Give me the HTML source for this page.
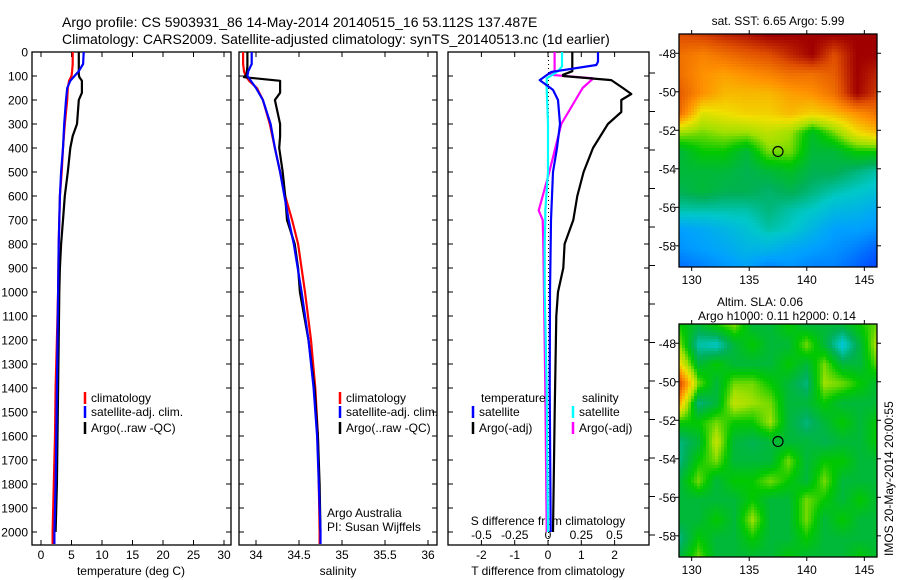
<!DOCTYPE html>
<html><head><meta charset="utf-8">
<style>
html,body{margin:0;padding:0;background:#fff;}
svg{display:block;font-family:"Liberation Sans",sans-serif;}
</style></head>
<body>
<svg id="fig" width="900" height="580" viewBox="0 0 900 580" xmlns="http://www.w3.org/2000/svg">
<rect x="0" y="0" width="900" height="580" fill="#fff"/>
<text x="62" y="27" font-size="14">Argo profile: CS 5903931_86 14-May-2014 20140515_16 53.112S 137.487E</text>
<text x="62" y="44" font-size="14">Climatology: CARS2009. Satellite-adjusted climatology: synTS_20140513.nc (1d earlier)</text>
<g id="g1"></g>
<g id="g2"></g>
<g id="g3"></g>
<g id="m1"></g>
<g id="m2"></g>
<text x="778" y="25" font-size="12" text-anchor="middle">sat. SST: 6.65 Argo: 5.99</text>
<text x="760" y="306" font-size="12" text-anchor="middle">Altim. SLA: 0.06</text>
<text x="777" y="320" font-size="12" text-anchor="middle">Argo h1000: 0.11 h2000: 0.14</text>
<text transform="translate(893,556) rotate(-90)" font-size="12">IMOS 20-May-2014 20:00:55</text>
</svg>
<script>
// ---- data ----
const tDepth   = [0,50,80,100,120,150,200,300,400,500,600,700,800,1000,1200,1400,1600,1800,2000,2050];
const tClim    = [5.2,5.2,5.1,5.0,4.6,4.4,4.3,3.9,3.6,3.4,3.1,3.0,2.9,2.8,2.6,2.4,2.3,2.1,1.9,1.9];
const tSat     = [7.0,6.9,6.2,5.5,4.8,4.3,4.1,3.8,3.6,3.3,3.1,3.0,2.9,2.8,2.7,2.6,2.5,2.4,2.2,2.2];
const aDepth   = [0,60,95,105,120,170,200,300,350,400,500,600,700,800,900,1000,1200,1400,1600,1800,2000];
const tArgo    = [6.2,6.2,6.2,6.3,6.7,6.7,6.2,5.9,5.2,4.8,4.4,3.9,3.6,3.3,3.1,3.0,2.9,2.8,2.7,2.6,2.4];
const sClim    = [33.85,33.85,33.86,33.88,33.92,34.01,34.08,34.16,34.22,34.28,34.34,34.42,34.49,34.57,34.64,34.69,34.72,34.73,34.74,34.74];
const sSat     = [33.95,33.95,33.91,33.90,33.94,34.00,34.08,34.17,34.22,34.28,34.33,34.38,34.44,34.53,34.61,34.67,34.71,34.73,34.75,34.75];
const sArgo    = [33.90,33.90,33.89,33.86,34.28,34.28,34.22,34.28,34.28,34.27,34.31,34.34,34.36,34.45,34.49,34.51,34.61,34.68,34.72,34.74,34.75];
const dDepth   = [0,40,54,83,117,158,200,300,400,500,600,700,1000,1400,2000];
const dTSat    = [1.5,1.5,1.45,0.1,-0.25,0.15,0.3,0.36,0.27,0.15,0.12,0.09,0.06,0.05,0.08];
const dDepth2  = [0,80,95,100,117,150,175,200,250,300,400,500,600,700,800,900,1000,1100,1500,2000];
const dTArgo   = [0.73,0.73,0.45,0.45,1.9,2.25,2.5,2.2,2.2,1.8,1.35,1.07,0.88,0.76,0.5,0.46,0.3,0.25,0.2,0.15];
const dSDepth  = [0,60,80,110,150,300,500,660,700,800,1000,1400,2000];
const dSSat    = [0.105,0.105,0.075,-0.01,-0.01,0.0,0.0,-0.02,-0.02,-0.025,-0.025,-0.01,0.0];
const dSArgo   = [0.05,0.05,0.02,0.34,0.26,0.1,0.01,-0.07,-0.04,-0.035,-0.03,-0.02,-0.01];
const dSArgoD  = [0,80,95,110,150,300,500,660,700,800,1000,1400,2000];
const depthTicks = [0,100,200,300,400,500,600,700,800,900,1000,1100,1200,1300,1400,1500,1600,1700,1800,1900,2000];
const tTicks = [0,5,10,15,20,25,30];
const sTicks = [34,34.5,35,35.5,36];
const dTTicks = [-2,-1,0,1,2];
const dSTicks = [-0.5,-0.25,0,0.25,0.5];
const dSTickLabels = ['-0.5','-0.25','0','0.25','0.5'];
const lonTicks = [130,135,140,145];
const latTicks = [-48,-50,-52,-54,-56,-58];
// SST map grid (colour scale 0..1), rows lat -47..-59, cols lon 129..146
const sstGrid = [
[0.9,0.92,0.95,0.97,1,1,1,1,1,1],
[0.85,0.82,0.85,0.88,0.9,0.95,1,0.9,1,1],
[0.85,0.8,0.78,0.8,0.82,0.85,0.85,0.88,1,0.95],
[0.88,0.8,0.75,0.75,0.75,0.78,0.8,0.85,1,0.92],
[0.85,0.68,0.7,0.72,0.72,0.75,0.72,0.75,0.8,0.85],
[0.62,0.6,0.62,0.62,0.65,0.62,0.52,0.6,0.7,0.75],
[0.5,0.55,0.55,0.5,0.6,0.6,0.5,0.5,0.55,0.55],
[0.5,0.5,0.5,0.48,0.5,0.52,0.48,0.48,0.45,0.42],
[0.48,0.5,0.48,0.48,0.46,0.48,0.45,0.42,0.4,0.38],
[0.42,0.42,0.42,0.42,0.45,0.42,0.4,0.36,0.35,0.32],
[0.3,0.32,0.35,0.38,0.42,0.4,0.35,0.3,0.3,0.28],
[0.28,0.3,0.32,0.35,0.35,0.32,0.3,0.28,0.25,0.2],
[0.22,0.25,0.28,0.3,0.25,0.28,0.25,0.25,0.2,0.15]];
const slaGrid = [
[0.55,0.5,0.55,0.6,0.5,0.5,0.55,0.5,0.5,0.5,0.55,0.6],
[0.6,0.42,0.4,0.5,0.55,0.5,0.5,0.6,0.5,0.38,0.5,0.65],
[0.7,0.5,0.55,0.5,0.5,0.5,0.55,0.5,0.6,0.5,0.5,0.6],
[0.9,0.6,0.5,0.6,0.6,0.55,0.5,0.45,0.62,0.6,0.55,0.5],
[0.75,0.45,0.5,0.65,0.62,0.6,0.5,0.5,0.55,0.5,0.5,0.5],
[0.55,0.55,0.6,0.55,0.55,0.62,0.5,0.45,0.5,0.55,0.5,0.55],
[0.45,0.5,0.65,0.5,0.48,0.5,0.5,0.5,0.48,0.5,0.5,0.55],
[0.45,0.55,0.6,0.5,0.5,0.5,0.6,0.5,0.55,0.55,0.5,0.5],
[0.5,0.6,0.5,0.55,0.55,0.6,0.55,0.5,0.6,0.5,0.5,0.5],
[0.5,0.5,0.5,0.5,0.55,0.5,0.5,0.6,0.55,0.5,0.55,0.5],
[0.5,0.5,0.55,0.5,0.62,0.5,0.5,0.6,0.5,0.55,0.5,0.5],
[0.45,0.55,0.5,0.5,0.55,0.5,0.5,0.55,0.5,0.5,0.5,0.5],
[0.5,0.6,0.5,0.5,0.5,0.5,0.55,0.5,0.5,0.5,0.55,0.5]];
const argoPos = [137.5,-53.1];

// ---- helpers ----
const NS='http://www.w3.org/2000/svg';
function mk(parent,tag,attrs,txt){const e=document.createElementNS(NS,tag);for(const k in attrs)e.setAttribute(k,attrs[k]);if(txt!==undefined)e.textContent=txt;parent.appendChild(e);return e;}
const top0=52, bot=545;
const yD = d => top0 + d*0.24;

function panel(g,x0,x1,xs,ticks,labels,name,ylabels){
  const r=mk(g,'rect',{x:x0,y:top0,width:x1-x0,height:bot-top0,fill:'none',stroke:'#000','stroke-width':1.3});
  
  
  depthTicks.forEach(d=>{
    const y=yD(d);
    mk(g,'line',{x1:x0,x2:x0+5,y1:y,y2:y,stroke:'#000'});
    mk(g,'line',{x1:x1-5,x2:x1,y1:y,y2:y,stroke:'#000'});
    if(ylabels){const t=mk(g,'text',{x:28,y:y+4.5,'font-size':12,'text-anchor':'end'},String(d));
      
      }
  });
  ticks.forEach((v,i)=>{
    const x=xs(v);
    mk(g,'line',{x1:x,x2:x,y1:top0,y2:top0+5,stroke:'#000'});
    mk(g,'line',{x1:x,x2:x,y1:bot-5,y2:bot,stroke:'#000'});
    const t=mk(g,'text',{x:x,y:559,'font-size':12,'text-anchor':'middle'},labels?labels[i]:String(v));
    
    
  });
}
function line(g,xs,vals,depths,color,name){
  const pts=vals.map((v,i)=>xs(v).toFixed(1)+','+yD(depths[i]).toFixed(1)).join(' ');
  const p=mk(g,'polyline',{points:pts,fill:'none',stroke:color,'stroke-width':2.2,'stroke-linejoin':'round'});
  
  
}
function legend(g,x,y,color,label){
  mk(g,'line',{x1:x,x2:x,y1:y-10,y2:y+2,stroke:color,'stroke-width':2.5});
  const t=mk(g,'text',{x:x+6,y:y,'font-size':12},label);
  
  
}

// panel 1 temperature
const g1=document.getElementById('g1');
const xT = v => 41 + v*6.1;
panel(g1,32,231,xT,tTicks,null,'temperature',true);
line(g1,xT,tClim,tDepth,'#f00','temperature-climatology-line');
line(g1,xT,tArgo,aDepth,'#000','temperature-argo-line');
line(g1,xT,tSat,tDepth,'#00f','temperature-satellite-line');
legend(g1,85,402,'#f00','climatology');
legend(g1,85,416,'#00f','satellite-adj. clim.');
legend(g1,85,432,'#000','Argo(..raw -QC)');
mk(g1,'text',{x:131,y:575,'font-size':12,'text-anchor':'middle'},'temperature (deg C)');

// panel 2 salinity
const g2=document.getElementById('g2');
const xS = v => 256 + (v-34)*86;
panel(g2,239,437,xS,sTicks,null,'salinity',false);
line(g2,xS,sClim,tDepth,'#f00','salinity-climatology-line');
line(g2,xS,sArgo,aDepth,'#000','salinity-argo-line');
line(g2,xS,sSat,tDepth,'#00f','salinity-satellite-line');
legend(g2,340,402,'#f00','climatology');
legend(g2,340,416,'#00f','satellite-adj. clim.');
legend(g2,340,432,'#000','Argo(..raw -QC)');
mk(g2,'text',{x:327,y:517,'font-size':12},'Argo Australia');
mk(g2,'text',{x:327,y:531,'font-size':12},'PI: Susan Wijffels');
mk(g2,'text',{x:338,y:575,'font-size':12,'text-anchor':'middle'},'salinity');

// panel 3 differences
const g3=document.getElementById('g3');
const xDT = v => 548 + v*33.3;
const xDS = v => 548 + v*133;
panel(g3,448,649,xDT,dTTicks,null,'difference',false);
for(let k=0;k<13;k++){const y=535-38.5*k; if(y>top0) mk(g3,'line',{x1:649,x2:655,y1:y,y2:y,stroke:'#000'});}
mk(g3,'line',{x1:548.5,x2:548.5,y1:top0,y2:bot,stroke:'#000','stroke-dasharray':'1,3'});
dSTicks.forEach((v,i)=>{const t=mk(g3,'text',{x:xDS(v),y:539,'font-size':12,'text-anchor':'middle'},dSTickLabels[i]);
  
  });
mk(g3,'text',{x:548,y:525,'font-size':12,'text-anchor':'middle'},'S difference from climatology');
line(g3,xDS,dSArgo,dSArgoD,'#f0f','s-diff-argo-line');
line(g3,xDS,dSSat,dSDepth,'#0ff','s-diff-satellite-line');
line(g3,xDT,dTArgo,dDepth2,'#000','t-diff-argo-line');
line(g3,xDT,dTSat,dDepth,'#00f','t-diff-satellite-line');
mk(g3,'text',{x:481,y:402,'font-size':12},'temperature');
mk(g3,'text',{x:582,y:402,'font-size':12},'salinity');
legend(g3,473,416,'#00f','satellite');
legend(g3,473,432,'#000','Argo(-adj)');
legend(g3,573,416,'#0ff','satellite');
legend(g3,573,432,'#f0f','Argo(-adj)');
mk(g3,'text',{x:548,y:575,'font-size':12,'text-anchor':'middle'},'T difference from climatology');

// maps
const cStops=[[0,[0,0,160]],[0.15,[0,64,255]],[0.3,[0,160,255]],[0.4,[0,200,200]],[0.47,[0,176,90]],[0.55,[0,200,0]],[0.62,[160,224,0]],[0.7,[240,224,0]],[0.8,[255,144,0]],[0.9,[224,80,0]],[1,[160,0,0]]];
function cmap(v){v=Math.max(0,Math.min(1,v));
  for(let i=1;i<cStops.length;i++){if(v<=cStops[i][0]){const a=cStops[i-1],b=cStops[i],t=(v-a[0])/(b[0]-a[0]);
    return 'rgb('+a[1].map((c,k)=>Math.round(c+(b[1][k]-c)*t)).join(',')+')';}}
  return 'rgb(160,0,0)';}
function map(id,grid,mx0,my0,mx1,my1){
  const g=document.getElementById(id);
  const lon0=128.9,lon1=146.1,lat0=-47.0,lat1=-59.1;
  const px=lon=>mx0+(lon-lon0)/(lon1-lon0)*(mx1-mx0);
  const py=lat=>my0+(lat-lat0)/(lat1-lat0)*(my1-my0);
  const R=grid.length,C=grid[0].length,cs=3;
  const grp=mk(g,'g',{});
  for(let y=my0;y<my1;y+=cs){for(let x=mx0;x<mx1;x+=cs){
    const fx=(x-mx0)/(mx1-mx0)*(C-1),fy=(y-my0)/(my1-my0)*(R-1);
    const i=Math.min(R-2,Math.floor(fy)),j=Math.min(C-2,Math.floor(fx)),a=fy-i,b=fx-j;
    const v=grid[i][j]*(1-a)*(1-b)+grid[i][j+1]*(1-a)*b+grid[i+1][j]*a*(1-b)+grid[i+1][j+1]*a*b;
    mk(grp,'rect',{x:x,y:y,width:Math.min(cs+0.3,mx1-x),height:Math.min(cs+0.3,my1-y),fill:cmap(v)});
  }}
  const fr=mk(g,'rect',{x:mx0,y:my0,width:mx1-mx0,height:my1-my0,fill:'none',stroke:'#000','stroke-width':1.3});
  
  
  lonTicks.forEach(l=>{const x=px(l);
    mk(g,'line',{x1:x,x2:x,y1:my0-4,y2:my0,stroke:'#000'});
    mk(g,'line',{x1:x,x2:x,y1:my1,y2:my1+4,stroke:'#000'});
    const t=mk(g,'text',{x:x,y:my1+17,'font-size':12,'text-anchor':'middle'},String(l));
    
    });
  latTicks.forEach(l=>{const y=py(l);
    mk(g,'line',{x1:mx0-4,x2:mx0,y1:y,y2:y,stroke:'#000'});
    mk(g,'line',{x1:mx1,x2:mx1+4,y1:y,y2:y,stroke:'#000'});
    const t=mk(g,'text',{x:mx0-3,y:y+4.5,'font-size':12,'text-anchor':'end'},String(l));
    
    });
  const c=mk(g,'circle',{cx:px(argoPos[0]),cy:py(argoPos[1]),r:5,fill:'none',stroke:'#000','stroke-width':1.2});
  
  
}
map('m1',sstGrid,679,34,877,267);
map('m2',slaGrid,679,324,877,557);
</script>
</body></html>
